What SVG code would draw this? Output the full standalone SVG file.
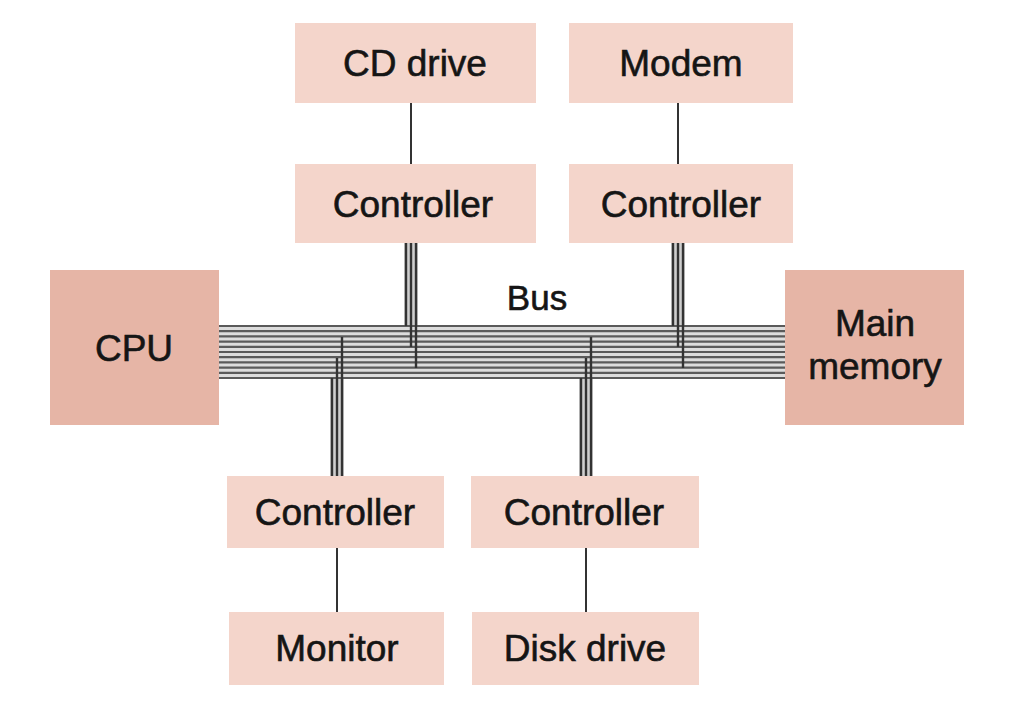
<svg xmlns="http://www.w3.org/2000/svg" width="1024" height="712" viewBox="0 0 1024 712">
<style>
.box{fill:#f4d5cb}
.dark{fill:#e6b5a6}
.t{font-family:"Liberation Sans",Arial,sans-serif;font-size:37px;fill:#151515;stroke:#151515;stroke-width:0.6;text-anchor:middle}
.bus{stroke:#5a5a5a;stroke-width:2.2;fill:none}
.busbg{fill:#dcdcdc}
.v{stroke:#333;stroke-width:2.4;fill:none}
.thin{stroke:#333;stroke-width:2;fill:none}
</style>
<rect width="1024" height="712" fill="#ffffff"/>
<g id="connectors">
<rect class="busbg" x="219" y="325" width="566" height="54"/>
<g class="bus">
<line x1="219" y1="326" x2="785" y2="326"/>
<line x1="219" y1="331.2" x2="785" y2="331.2"/>
<line x1="219" y1="336.4" x2="785" y2="336.4"/>
<line x1="219" y1="341.6" x2="785" y2="341.6"/>
<line x1="219" y1="346.8" x2="785" y2="346.8"/>
<line x1="219" y1="352" x2="785" y2="352"/>
<line x1="219" y1="357.2" x2="785" y2="357.2"/>
<line x1="219" y1="362.4" x2="785" y2="362.4"/>
<line x1="219" y1="367.6" x2="785" y2="367.6"/>
<line x1="219" y1="372.8" x2="785" y2="372.8"/>
<line x1="219" y1="378" x2="785" y2="378"/>
</g>
<rect x="404" y="243" width="14" height="82" fill="#cfcfcf"/>
<rect x="671" y="243" width="14" height="82" fill="#cfcfcf"/>
<rect x="330" y="379" width="14" height="97" fill="#cfcfcf"/>
<rect x="579" y="379" width="14" height="97" fill="#cfcfcf"/>
<g class="v">
<line x1="406" y1="243" x2="406" y2="326"/>
<line x1="411" y1="243" x2="411" y2="347"/>
<line x1="416" y1="243" x2="416" y2="368"/>
<line x1="673" y1="243" x2="673" y2="326"/>
<line x1="678" y1="243" x2="678" y2="347"/>
<line x1="683" y1="243" x2="683" y2="368"/>
<line x1="342" y1="337" x2="342" y2="476"/>
<line x1="337" y1="358" x2="337" y2="476"/>
<line x1="332" y1="378" x2="332" y2="476"/>
<line x1="591" y1="337" x2="591" y2="476"/>
<line x1="586" y1="358" x2="586" y2="476"/>
<line x1="581" y1="378" x2="581" y2="476"/>
</g>
<g class="thin">
<line x1="411" y1="103" x2="411" y2="164"/>
<line x1="678" y1="103" x2="678" y2="164"/>
<line x1="337" y1="548" x2="337" y2="612"/>
<line x1="586" y1="548" x2="586" y2="612"/>
</g>
<text class="t" x="537" y="310" style="font-size:35px">Bus</text>
</g>
<g id="cd-drive"><rect class="box" x="295" y="23" width="241" height="80"/><text class="t" x="415" y="76">CD drive</text></g>
<g id="modem"><rect class="box" x="569" y="23" width="224" height="80"/><text class="t" x="681" y="76">Modem</text></g>
<g id="cd-controller"><rect class="box" x="295" y="164" width="241" height="79"/><text class="t" x="413" y="217">Controller</text></g>
<g id="modem-controller"><rect class="box" x="569" y="164" width="224" height="79"/><text class="t" x="681" y="217">Controller</text></g>
<g id="cpu"><rect class="dark" x="50" y="270" width="169" height="155"/><text class="t" x="134" y="361">CPU</text></g>
<g id="main-memory"><rect class="dark" x="785" y="270" width="179" height="155"/><text class="t" x="875" y="336">Main</text><text class="t" x="875" y="379">memory</text></g>
<g id="monitor-controller"><rect class="box" x="227" y="476" width="217" height="72"/><text class="t" x="335" y="525">Controller</text></g>
<g id="disk-controller"><rect class="box" x="471" y="476" width="228" height="72"/><text class="t" x="584" y="525">Controller</text></g>
<g id="monitor"><rect class="box" x="229" y="612" width="215" height="73"/><text class="t" x="337" y="661">Monitor</text></g>
<g id="disk-drive"><rect class="box" x="472" y="612" width="227" height="73"/><text class="t" x="585" y="661">Disk drive</text></g>
</svg>
